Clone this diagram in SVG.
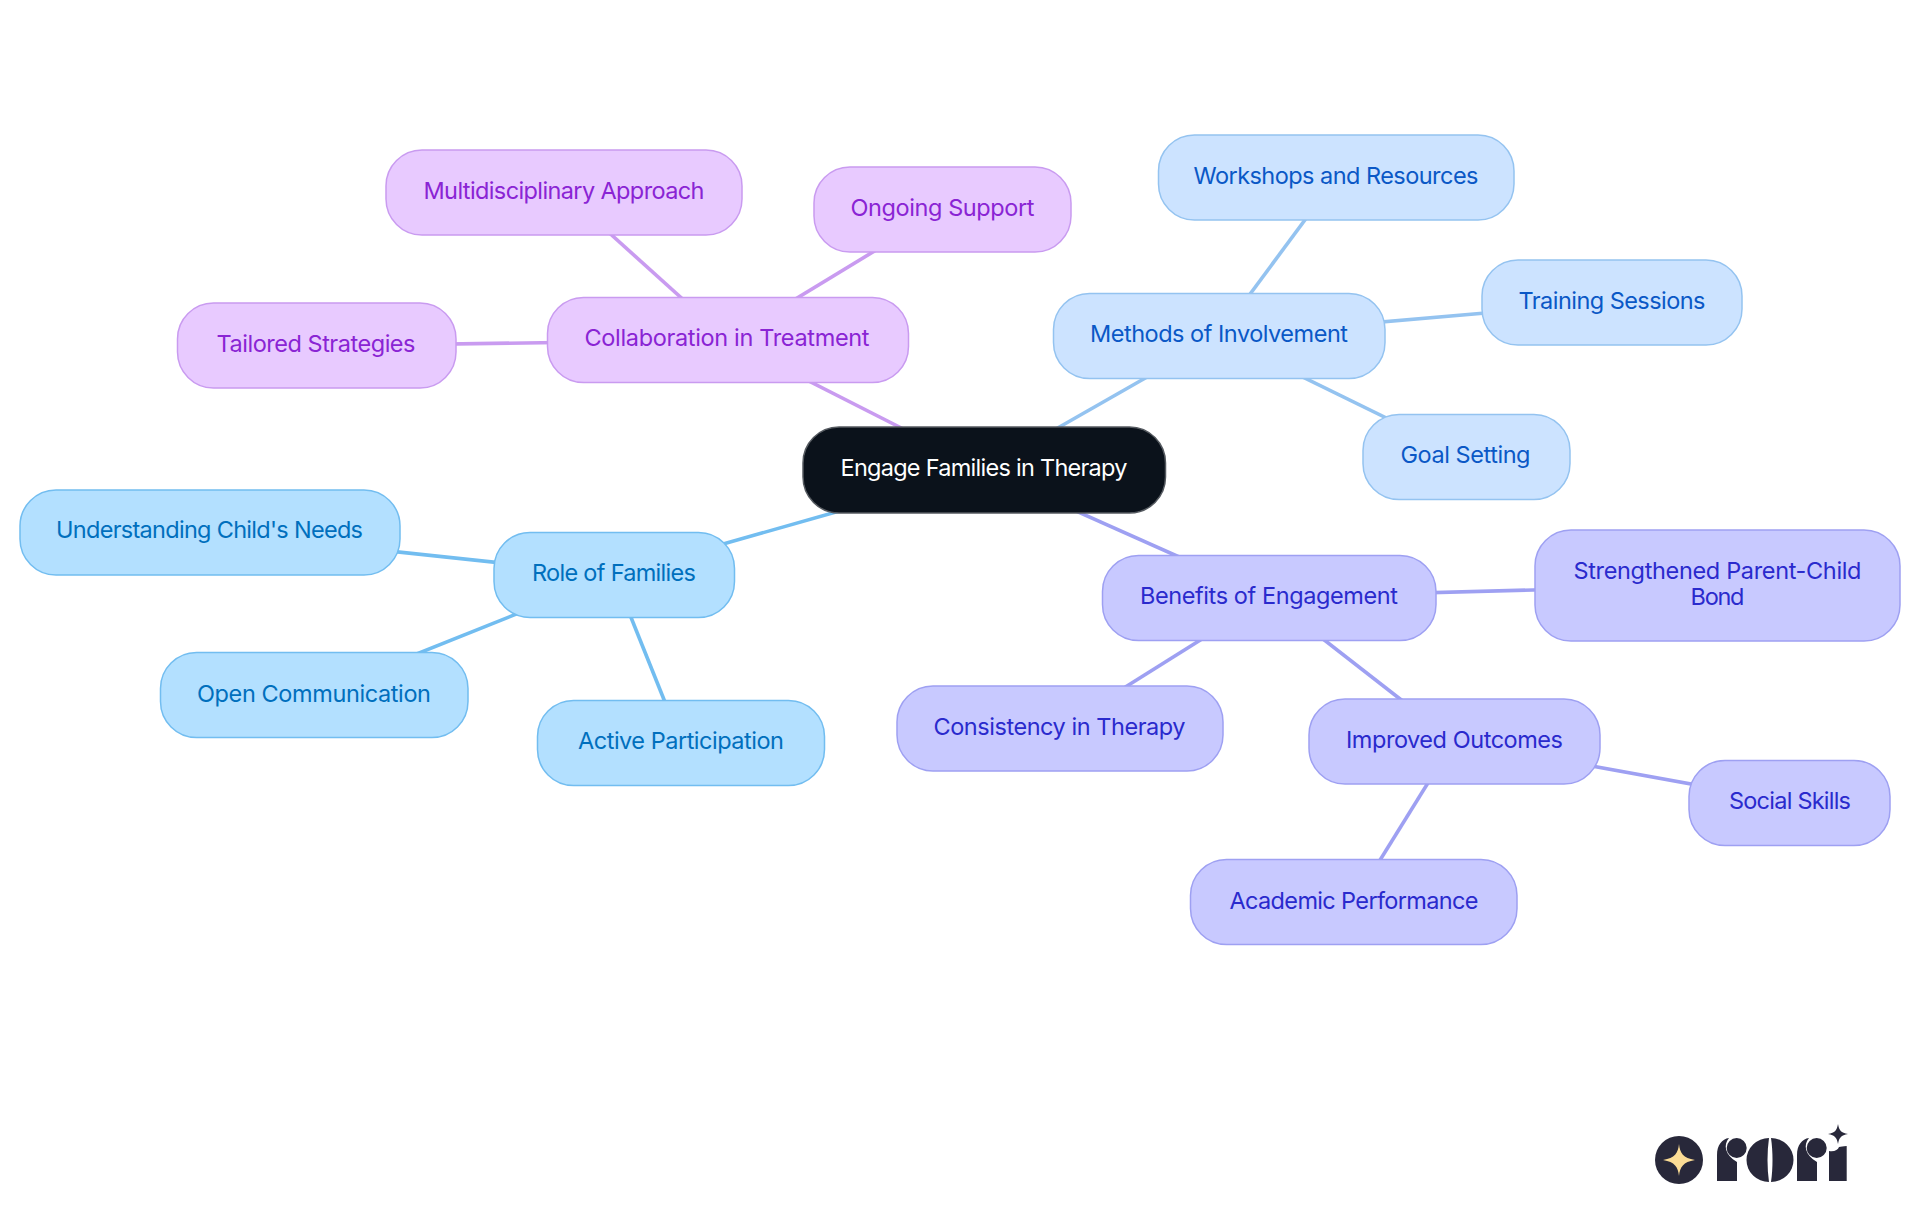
<svg xmlns="http://www.w3.org/2000/svg" width="1920" height="1215" viewBox="0 0 1920 1215">
<style>
text{font-family:"Inter","Noto Sans",sans-serif;font-size:23.5px;font-weight:380;text-anchor:middle}
rect{stroke-width:1.5}
.c line{stroke-width:3.6;fill:none}
.a rect{fill:#b3e0ff;stroke:#72bdf0}.a text{fill:#006fbd}
.p rect{fill:#e8caff;stroke:#c99bf0}.p text{fill:#8a24d4}
.m rect{fill:#cce3ff;stroke:#94c3f0}.m text{fill:#0a58c6}
.b rect{fill:#c8c9ff;stroke:#9ea0f2}.b text{fill:#2a2acd}
.lp{stroke:#c99bf0}.lm{stroke:#94c3f0}.la{stroke:#72bdf0}.lb{stroke:#9ea0f2}
.k{fill:#28283a}
</style>
<rect width="1920" height="1215" fill="#fff" style="stroke:none"/>
<g id="connectors" class="c">
<line class="lp" x1="984" y1="470" x2="728" y2="340"/>
<line class="lp" x1="728" y1="340" x2="564" y2="192"/>
<line class="lp" x1="728" y1="340" x2="942" y2="210"/>
<line class="lp" x1="728" y1="340" x2="316" y2="346"/>
<line class="lm" x1="984" y1="470" x2="1219" y2="336"/>
<line class="lm" x1="1219" y1="336" x2="1336" y2="178"/>
<line class="lm" x1="1219" y1="336" x2="1612" y2="302"/>
<line class="lm" x1="1219" y1="336" x2="1466" y2="457"/>
<line class="la" x1="984" y1="470" x2="614" y2="575"/>
<line class="la" x1="614" y1="575" x2="210" y2="532"/>
<line class="la" x1="614" y1="575" x2="314" y2="695"/>
<line class="la" x1="614" y1="575" x2="681" y2="742"/>
<line class="lb" x1="984" y1="470" x2="1269" y2="597"/>
<line class="lb" x1="1269" y1="597" x2="1718" y2="585"/>
<line class="lb" x1="1269" y1="597" x2="1060" y2="728"/>
<line class="lb" x1="1269" y1="597" x2="1454" y2="741"/>
<line class="lb" x1="1454" y1="741" x2="1790" y2="802"/>
<line class="lb" x1="1454" y1="741" x2="1354" y2="902"/>
</g>
<g id="root"><rect x="803" y="427" width="362.500" height="86" rx="36" fill="#0b121b" stroke="#555a60"/><text x="984" y="476" fill="#fff" textLength="287">Engage Families in Therapy</text></g>
<g id="collab" class="p"><rect x="547.500" y="297.500" width="361" height="85" rx="36"/><text x="727" y="346" textLength="285">Collaboration in Treatment</text></g>
<g id="multi" class="p"><rect x="386" y="150" width="356" height="85" rx="36"/><text x="564" y="199" textLength="281">Multidisciplinary Approach</text></g>
<g id="ongoing" class="p"><rect x="814" y="167" width="257" height="85" rx="36"/><text x="942.500" y="216" textLength="184">Ongoing Support</text></g>
<g id="tailored" class="p"><rect x="177.500" y="303" width="278.500" height="85" rx="36"/><text x="316" y="352" textLength="199">Tailored Strategies</text></g>
<g id="methods" class="m"><rect x="1053.500" y="293.500" width="331.500" height="85" rx="36"/><text x="1219" y="342" textLength="258">Methods of Involvement</text></g>
<g id="workshops" class="m"><rect x="1158.500" y="135" width="355.500" height="85" rx="36"/><text x="1336" y="184" textLength="285">Workshops and Resources</text></g>
<g id="training" class="m"><rect x="1482" y="260" width="260" height="85" rx="36"/><text x="1612" y="309" textLength="187">Training Sessions</text></g>
<g id="goal" class="m"><rect x="1363" y="414.500" width="207" height="85" rx="36"/><text x="1465.500" y="463" textLength="130">Goal Setting</text></g>
<g id="role" class="a"><rect x="494" y="532.500" width="240.500" height="85" rx="36"/><text x="614" y="581" textLength="164">Role of Families</text></g>
<g id="understanding" class="a"><rect x="20" y="490" width="380" height="85" rx="36"/><text x="209.500" y="538" textLength="307">Understanding Child's Needs</text></g>
<g id="open" class="a"><rect x="160.500" y="652.500" width="307.500" height="85" rx="36"/><text x="314" y="702" textLength="234">Open Communication</text></g>
<g id="active" class="a"><rect x="537.500" y="700.500" width="287" height="85" rx="36"/><text x="681" y="749" textLength="206">Active Participation</text></g>
<g id="benefits" class="b"><rect x="1102.500" y="555.500" width="333.500" height="85" rx="36"/><text x="1269" y="604" textLength="258">Benefits of Engagement</text></g>
<g id="strength" class="b"><rect x="1535" y="530" width="365" height="111" rx="36"/><text x="1717.500" y="579" textLength="288">Strengthened Parent-Child</text><text x="1717.500" y="605" textLength="54">Bond</text></g>
<g id="consistency" class="b"><rect x="897" y="686" width="326" height="85" rx="36"/><text x="1059.500" y="735" textLength="252">Consistency in Therapy</text></g>
<g id="improved" class="b"><rect x="1309" y="699" width="291" height="85" rx="36"/><text x="1454.500" y="748" textLength="217">Improved Outcomes</text></g>
<g id="social" class="b"><rect x="1689" y="760.500" width="201" height="85" rx="36"/><text x="1790" y="809" textLength="122">Social Skills</text></g>
<g id="academic" class="b"><rect x="1190.500" y="859.500" width="326.500" height="85" rx="36"/><text x="1354" y="909" textLength="249">Academic Performance</text></g>
<g id="logo">
<circle class="k" cx="1679" cy="1160" r="24"/>
<path d="M1679 1144C1680 1153 1683 1158 1695 1160C1683 1162 1680 1167 1679 1176C1678 1167 1675 1162 1663 1160C1675 1158 1678 1153 1679 1144Z" fill="#fbdc95"/>
<path class="k" d="M1717 1181V1155C1717 1145 1722 1139 1729 1138C1723 1145 1725 1155 1737 1162V1181Z"/>
<circle class="k" cx="1736.700" cy="1148" r="10"/>
<path class="k" d="M1769 1138A22.500 22 0 0 0 1769 1182C1767 1168 1767 1152 1769 1138Z"/>
<path class="k" d="M1771 1138A22.500 22 0 0 1 1771 1182C1773 1168 1773 1152 1771 1138Z"/>
<path class="k" d="M1797 1181V1155C1797 1145 1802 1139 1809 1138C1803 1145 1805 1155 1817 1162V1181Z"/>
<circle class="k" cx="1816.700" cy="1148" r="10"/>
<path class="k" d="M1829 1181V1151C1834 1152 1838 1150 1839 1147C1841 1147 1843 1146 1846.700 1146V1181Z"/>
<path class="k" d="M1838 1124C1839 1130 1841 1133 1848 1134C1841 1135 1839 1138 1838 1144C1837 1138 1835 1135 1828 1134C1835 1133 1837 1130 1838 1124Z"/>
</g>
</svg>
